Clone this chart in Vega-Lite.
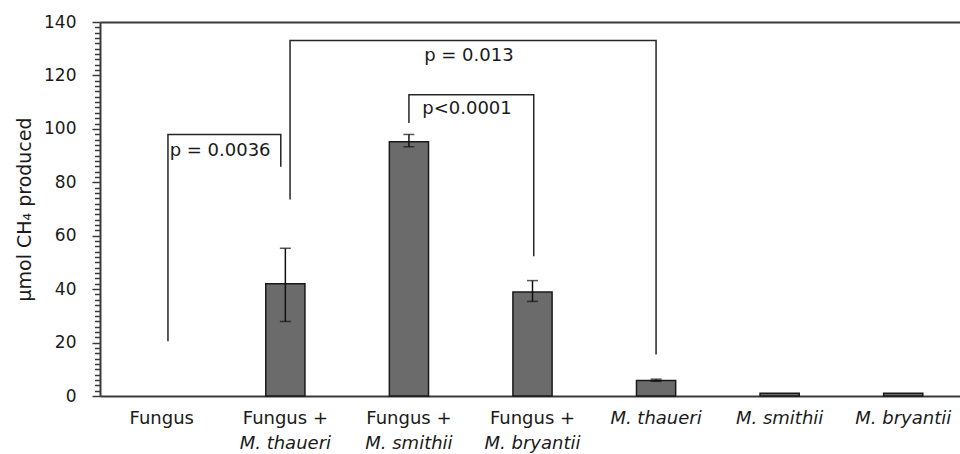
{
  "$schema": "https://vega.github.io/schema/vega-lite/v6.json",
  "autosize": {"type": "none"},
  "padding": {"left": 100, "top": 22, "right": 0, "bottom": 58},
  "width": 860,
  "height": 374,
  "background": "white",
  "config": {
    "view": {"stroke": null},
    "font": "DejaVu Sans",
    "text": {"font": "DejaVu Sans"}
  },
  "datasets": {
    "bars": [
      {"group": "Fungus", "mean": 0},
      {"group": "Fungus + M. thaueri", "mean": 42.0},
      {"group": "Fungus + M. smithii", "mean": 95.2},
      {"group": "Fungus + M. bryantii", "mean": 38.9},
      {"group": "M. thaueri", "mean": 5.8},
      {"group": "M. smithii", "mean": 1.0},
      {"group": "M. bryantii", "mean": 1.0}
    ],
    "errors": [
      {"group": "Fungus + M. thaueri", "lo": 27.9, "hi": 55.3},
      {"group": "Fungus + M. smithii", "lo": 93.3, "hi": 97.9},
      {"group": "Fungus + M. bryantii", "lo": 35.4, "hi": 43.2},
      {"group": "M. thaueri", "lo": 5.5, "hi": 6.3}
    ],
    "brackets": [
      {"b": 1, "o": 1, "x": 0.05, "y": 20.5},
      {"b": 1, "o": 2, "x": 0.05, "y": 97.9},
      {"b": 1, "o": 3, "x": 0.963, "y": 97.9},
      {"b": 1, "o": 4, "x": 0.963, "y": 85.8},
      {"b": 2, "o": 1, "x": 1.038, "y": 73.6},
      {"b": 2, "o": 2, "x": 1.038, "y": 133.1},
      {"b": 2, "o": 3, "x": 4.0, "y": 133.1},
      {"b": 2, "o": 4, "x": 4.0, "y": 15.5},
      {"b": 3, "o": 1, "x": 2.0, "y": 102.2},
      {"b": 3, "o": 2, "x": 2.0, "y": 112.8},
      {"b": 3, "o": 3, "x": 3.01, "y": 112.8},
      {"b": 3, "o": 4, "x": 3.01, "y": 52.3}
    ],
    "pvalues": [
      {"label": "p = 0.0036", "x": 0.472, "y": 91.7},
      {"label": "p = 0.013", "x": 2.485, "y": 127.2},
      {"label": "p<0.0001", "x": 2.47, "y": 107.3}
    ]
  },
  "resolve": {
    "scale": {"x": "independent"},
    "axis": {"x": "independent", "y": "independent"}
  },
  "layer": [
    {
      "data": {"name": "bars"},
      "mark": {"type": "bar", "width": {"band": 0.317}, "fill": "#6b6b6b", "stroke": "#1a1a1a"},
      "encoding": {
        "strokeWidth": {"condition": {"test": "datum.mean == 0", "value": 0}, "value": 1.5},
        "x": {
          "field": "group", "type": "nominal", "sort": null,
          "scale": {
            "domain": ["Fungus", "Fungus + M. thaueri", "Fungus + M. smithii", "Fungus + M. bryantii", "M. thaueri", "M. smithii", "M. bryantii"],
            "paddingInner": 0, "paddingOuter": 0, "range": [0, 865]
          },
          "axis": {
            "orient": "bottom", "title": null, "ticks": false,
            "domain": true, "domainColor": "#3a3a3a", "domainWidth": 2,
            "labelAngle": 0, "labelPadding": 13, "labelFontSize": 18,
            "labelColor": "#1a1a1a", "labelOverlap": false, "labelBound": false,
            "labelExpr": "substring(datum.value, 0, 8) == 'Fungus +' ? 'Fungus +' : datum.value",
            "labelFontStyle": {"condition": {"test": "substring(datum.value, 0, 2) == 'M.'", "value": "italic"}, "value": "normal"},
            "grid": false
          }
        },
        "y": {
          "field": "mean", "type": "quantitative",
          "scale": {"domain": [0, 140], "nice": false},
          "axis": {
            "orient": "left",
            "values": [0, 20, 40, 60, 80, 100, 120, 140],
            "tickSize": 8, "tickWidth": 1.5, "tickColor": "#3a3a3a",
            "domainColor": "#3a3a3a", "domainWidth": 2,
            "labelFontSize": 17, "labelPadding": 16, "labelColor": "#1a1a1a",
            "title": "µmol CH₄ produced", "titleFontSize": 19, "titleFontWeight": "normal",
            "titleColor": "#1a1a1a", "titlePadding": 9,
            "grid": true, "gridColor": "#3a3a3a", "gridWidth": 2,
            "gridOpacity": {"condition": {"test": "datum.value == 140", "value": 1}, "value": 0}
          }
        }
      }
    },
    {
      "data": {"name": "errors"},
      "mark": {"type": "rule", "color": "#111111", "strokeWidth": 1.5},
      "encoding": {
        "x": {
          "field": "group", "type": "nominal", "sort": null,
          "scale": {
            "domain": ["Fungus", "Fungus + M. thaueri", "Fungus + M. smithii", "Fungus + M. bryantii", "M. thaueri", "M. smithii", "M. bryantii"],
            "paddingInner": 0, "paddingOuter": 0, "range": [0, 865]
          },
          "axis": {
            "orient": "bottom", "title": null, "ticks": false, "domain": false,
            "labelAngle": 0, "labelPadding": 38, "labelFontSize": 18,
            "labelColor": "#1a1a1a", "labelOverlap": false, "labelBound": false,
            "labelFontStyle": "italic",
            "labelExpr": "substring(datum.value, 0, 8) == 'Fungus +' ? substring(datum.value, 9) : ''",
            "grid": false
          }
        },
        "y": {
          "field": "lo", "type": "quantitative",
          "scale": {"domain": [0, 140], "nice": false},
          "axis": {
            "orient": "left",
            "values": [2,4,6,8,10,12,14,16,18,22,24,26,28,30,32,34,36,38,42,44,46,48,50,52,54,56,58,62,64,66,68,70,72,74,76,78,82,84,86,88,90,92,94,96,98,102,104,106,108,110,112,114,116,118,122,124,126,128,130,132,134,136,138],
            "tickSize": 5.5, "tickWidth": 1.5, "tickColor": "#3a3a3a",
            "labels": false, "domain": false, "grid": false, "title": null
          }
        },
        "y2": {"field": "hi"}
      }
    },
    {
      "data": {"name": "errors"},
      "mark": {"type": "tick", "color": "#111111", "thickness": 1.5, "size": 11},
      "encoding": {
        "x": {
          "field": "group", "type": "nominal", "sort": null,
          "scale": {
            "domain": ["Fungus", "Fungus + M. thaueri", "Fungus + M. smithii", "Fungus + M. bryantii", "M. thaueri", "M. smithii", "M. bryantii"],
            "paddingInner": 0, "paddingOuter": 0, "range": [0, 865]
          },
          "axis": null
        },
        "y": {"field": "lo", "type": "quantitative", "scale": {"domain": [0, 140], "nice": false}, "axis": null}
      }
    },
    {
      "data": {"name": "errors"},
      "mark": {"type": "tick", "color": "#111111", "thickness": 1.5, "size": 11},
      "encoding": {
        "x": {
          "field": "group", "type": "nominal", "sort": null,
          "scale": {
            "domain": ["Fungus", "Fungus + M. thaueri", "Fungus + M. smithii", "Fungus + M. bryantii", "M. thaueri", "M. smithii", "M. bryantii"],
            "paddingInner": 0, "paddingOuter": 0, "range": [0, 865]
          },
          "axis": null
        },
        "y": {"field": "hi", "type": "quantitative", "scale": {"domain": [0, 140], "nice": false}, "axis": null}
      }
    },
    {
      "data": {"name": "brackets"},
      "mark": {"type": "line", "color": "#262626", "strokeWidth": 1.5, "interpolate": "linear"},
      "encoding": {
        "x": {"field": "x", "type": "quantitative", "scale": {"domain": [-0.5, 6.5], "nice": false, "zero": false, "range": [0, 865]}, "axis": null},
        "y": {"field": "y", "type": "quantitative", "scale": {"domain": [0, 140], "nice": false}, "axis": null},
        "detail": {"field": "b", "type": "nominal"},
        "order": {"field": "o", "type": "quantitative"}
      }
    },
    {
      "data": {"name": "pvalues"},
      "mark": {"type": "text", "fontSize": 18, "color": "#1a1a1a", "align": "center", "baseline": "middle"},
      "encoding": {
        "x": {"field": "x", "type": "quantitative", "scale": {"domain": [-0.5, 6.5], "nice": false, "zero": false, "range": [0, 865]}, "axis": null},
        "y": {"field": "y", "type": "quantitative", "scale": {"domain": [0, 140], "nice": false}, "axis": null},
        "text": {"field": "label"}
      }
    }
  ]
}
